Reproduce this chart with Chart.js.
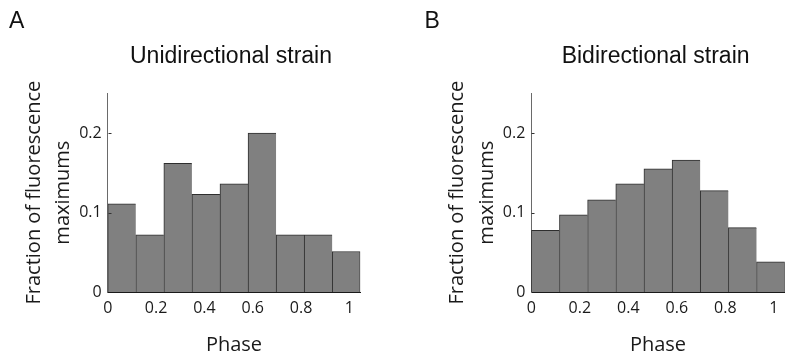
<!DOCTYPE html>
<html><head><meta charset="utf-8">
<script src="https://cdn.jsdelivr.net/npm/chart.js@4.4.1/dist/chart.umd.min.js"></script>
<style>
html,body{margin:0;padding:0;background:#fff;width:786px;height:353px;overflow:hidden}
.p{position:absolute;top:0;width:393px;height:353px}
canvas{display:block}
</style></head><body>
<div class="p" style="left:0"><canvas id="cA" width="393" height="353"></canvas></div>
<div class="p" style="left:393px"><canvas id="cB" width="393" height="353"></canvas></div>
<script>
const panelLetters = ['A', 'B'];
const panelTitles = ['Unidirectional strain', 'Bidirectional strain'];
const binCount = 9;
const phaseMax = 1.045;
const uniValues = [0.111, 0.072, 0.162, 0.123, 0.136, 0.200, 0.072, 0.072, 0.051];
const biValues = [0.0775, 0.097, 0.116, 0.136, 0.155, 0.166, 0.1275, 0.081, 0.038];
const xTickValues = [0, 0.2, 0.4, 0.6, 0.8, 1];
const xTickLabels = ['0', '0.2', '0.4', '0.6', '0.8', '1'];
const yTickValues = [0, 0.1, 0.2];
const yTickLabels = ['0', '0.1', '0.2'];
const yMax = 0.25;
const xTitle = 'Phase';
const yTitle = ['Fraction of fluorescence', 'maximums'];

const CW = 393, CH = 353;
const panels = [
  {id: 'cA', values: uniValues, letter: panelLetters[0], title: panelTitles[0],
   g: {left: 107.7, right: 360.3, top: 93.3, bottom: 292}, letterX: 9, titleX: 231},
  {id: 'cB', values: biValues, letter: panelLetters[1], title: panelTitles[1],
   g: {left: 138.3, right: 391.7, top: 93.3, bottom: 292}, letterX: 31.5, titleX: 262.6}
];

const tickFont = {family: '"Open Sans"', size: 16};
const textColor = '#1a1a1a';

panels.forEach(p => {
  const g = p.g;
  const textPlugin = {
    id: 'panelText',
    afterDraw(chart) {
      const ctx = chart.ctx;
      ctx.save();
      ctx.fillStyle = '#111';
      ctx.font = '23px "Liberation Sans"';
      ctx.textBaseline = 'alphabetic';
      ctx.textAlign = 'left';
      ctx.fillText(p.letter, p.letterX, 28.3);
      ctx.textAlign = 'center';
      ctx.fillText(p.title, p.titleX, 63.3);
      // small inward ticks on y axis
      const ys = chart.scales.y;
      const left = Math.round(chart.chartArea.left) + 0.5;
      ctx.strokeStyle = '#333';
      ctx.lineWidth = 1;
      yTickValues.forEach(v => {
        if (v === 0) return;
        const py = Math.round(ys.getPixelForValue(v)) + 0.5;
        ctx.beginPath();
        ctx.moveTo(left, py);
        ctx.lineTo(left + 3, py);
        ctx.stroke();
      });
      ctx.restore();
    }
  };
  new Chart(document.getElementById(p.id), {
    type: 'bar',
    data: {
      datasets: [{
        data: p.values.map((v, i) => ({x: (i + 0.5) * phaseMax / binCount, y: v})),
        backgroundColor: '#808080',
        borderColor: '#2e2e2e',
        borderWidth: ctx => ({top: 1, left: 1, bottom: 0, right: ctx.dataIndex === binCount - 1 ? 1 : 0}),
        borderSkipped: false,
        barPercentage: 1,
        categoryPercentage: 1
      }]
    },
    options: {
      responsive: false,
      animation: false,
      devicePixelRatio: 1,
      events: [],
      layout: {padding: {left: 0, top: g.top, right: CW - g.right, bottom: 0}},
      plugins: {legend: {display: false}, tooltip: {enabled: false}, title: {display: false}},
      scales: {
        x: {
          type: 'linear', min: 0, max: phaseMax, offset: false,
          grid: {display: false, drawTicks: false},
          border: {display: true, color: '#1a1a1a', width: 1},
          ticks: {font: tickFont, color: textColor, padding: 7, maxRotation: 0, autoSkip: false,
                  callback: (v, i) => xTickLabels[i]},
          afterBuildTicks: s => { s.ticks = xTickValues.map(v => ({value: v})); },
          afterFit: s => { s.height = CH - g.bottom; },
          title: {display: true, text: xTitle, color: textColor,
                  font: {family: '"Open Sans"', size: 20, lineHeight: 0.8}, padding: 0}
        },
        y: {
          min: 0, max: yMax,
          grid: {display: false, drawTicks: false},
          border: {display: true, color: '#6a6a6a', width: 1},
          ticks: {font: tickFont, color: textColor, padding: 6,
                  callback: (v, i) => yTickLabels[i]},
          afterBuildTicks: s => { s.ticks = yTickValues.map(v => ({value: v})); },
          afterFit: s => { s.width = g.left; },
          title: {display: true, text: yTitle, color: textColor,
                  font: {family: '"Open Sans"', size: 20, lineHeight: 1.48},
                  padding: {top: p.id === 'cA' ? 19.2 : 49.8, bottom: 0}}
        }
      }
    },
    plugins: [textPlugin]
  });
});
</script>
</body></html>
